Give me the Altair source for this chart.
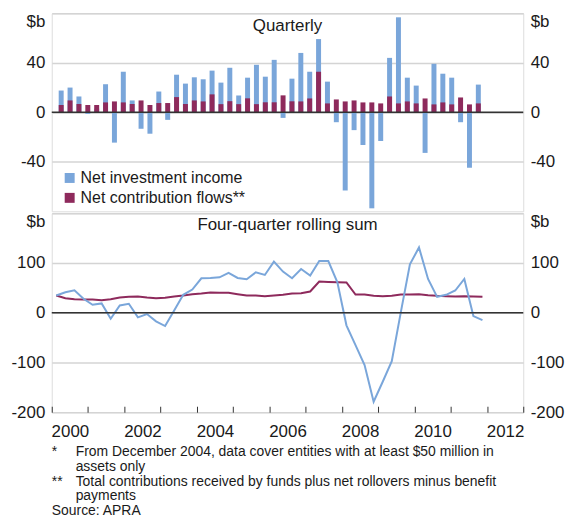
import altair as alt
import pandas as pd

# ---------------- data ----------------
quarters = [f"{y} Q{q}" for y in range(2000, 2012) for q in range(1, 5)]

net_investment_income = [
    17.6, 20.0, 12.8, -1.3, 3.0, 22.7, -24.5, 32.8, 9.6, -13.3, -17.3, 16.8,
    -6.1, 30.4, 23.2, 28.3, 26.7, 33.7, 24.0, 36.0, 13.6, 28.0, 38.4, 28.8,
    42.4, -4.5, 27.2, 48.0, 32.8, 59.2, 24.8, -8.0, -63.2, -14.4, -26.4, -77.6,
    -23.2, 44.0, 76.8, 28.0, 21.6, -32.8, 39.2, 31.2, 28.0, -8.0, -44.8, 22.4,
]
net_contribution_flows = [
    5.9, 9.6, 6.7, 5.9, 5.9, 8.0, 8.8, 8.0, 6.7, 9.6, 5.9, 7.5,
    7.5, 12.3, 6.7, 9.6, 8.8, 14.5, 6.6, 9.0, 6.6, 11.3, 6.6, 8.1,
    8.1, 13.7, 8.9, 8.8, 11.2, 32.8, 7.2, 10.4, 8.8, 9.6, 8.0, 8.0,
    7.2, 12.8, 7.2, 8.8, 7.2, 11.2, 6.4, 8.0, 6.4, 12.0, 6.4, 7.2,
]
rolling_investment = [
    34.7, 41.3, 45.3, 28.0, 16.0, 18.7, -12.0, 14.7, 18.0, -9.3, -2.7, -17.3,
    -26.7, 4.7, 36.0, 46.7, 69.3, 70.0, 71.3, 80.0, 70.0, 67.3, 81.3, 76.0,
    102.7, 82.7, 69.3, 88.0, 74.7, 104.0, 104.0, 61.3, -25.3, -65.0, -105.0, -178.7,
    -138.7, -97.3, 1.3, 97.3, 131.3, 68.0, 32.0, 36.0, 44.7, 68.0, -6.7, -14.7,
]
rolling_contribution = [
    34.7, 29.3, 27.3, 26.7, 26.7, 25.3, 27.3, 30.7, 32.0, 32.7, 30.7, 29.3,
    30.0, 32.7, 34.7, 37.3, 38.7, 40.7, 40.0, 40.0, 37.3, 34.7, 34.7, 33.3,
    34.7, 36.0, 38.7, 39.3, 42.7, 62.7, 62.0, 61.3, 61.0, 36.7, 36.7, 34.0,
    33.3, 34.0, 36.7, 36.7, 37.3, 35.3, 34.0, 33.3, 32.7, 33.3, 32.7, 32.0,
]
series_names = ["Net investment income", "Net contribution flows**"]
year_ticks = list(range(2000, 2014))
top_ticks = [-40, 0, 40, 80]
bottom_ticks = [-200, -100, 0, 100, 200]
footnotes = [
    ("*", "From December 2004, data cover entities with at least $50 million in"),
    ("", "assets only"),
    ("**", "Total contributions received by funds plus net rollovers minus benefit"),
    ("", "payments"),
    ("Source: APRA", ""),
]

# ---------------- styling ----------------
BLUE = "#7aa6da"
MAROON = "#8e2a5c"
TXT = "#1a1a1a"
W = 474
H_TOP = 199
H_BOT = 200
FONT = "Liberation Sans"


def qpos(label):
    y, q = label.split(" Q")
    return int(y) + (int(q) - 0.5) / 4.0


tpos = [qpos(q) for q in quarters]

bar_df = pd.DataFrame({
    "t": tpos + tpos,
    "v": net_investment_income + net_contribution_flows,
    "series": [series_names[0]] * len(tpos) + [series_names[1]] * len(tpos),
})
line_df = pd.DataFrame({"t": tpos, "inv": rolling_investment, "con": rolling_contribution})
one = pd.DataFrame({"a": [0]})

xs = alt.Scale(domain=[2000, 2013], nice=False, zero=False)
ys_top = alt.Scale(domain=[-80, 80], nice=False, zero=False)
ys_bot = alt.Scale(domain=[-200, 200], nice=False, zero=False)


def yaxis(orient, values, top, grid=True):
    expr = (f"datum.value == {top} ? '$b' : "
            "datum.value < 0 ? '-' + format(abs(datum.value), 'd') : format(datum.value, 'd')")
    return alt.Axis(
        orient=orient, values=values, labelExpr=expr, grid=grid,
        ticks=False, tickSize=0, domain=False, labelPadding=7,
        labelFontSize=17, labelColor=TXT, labelFont=FONT,
        gridColor="#d4d4d4", gridWidth=1.5,
        labelOverlap=False, labelFlush=False,
        labelAlign="right" if orient == "left" else "left",
        labelBaseline="middle",
        labelOffset={"condition": {"test": f"datum.value == {top}", "value": 8.5},
                     "value": 0},
        title=None,
    )


color = alt.Color(
    "series:N",
    scale=alt.Scale(domain=series_names, range=[BLUE, MAROON]),
    legend=alt.Legend(
        orient="none", legendX=10, legendY=157.5, title=None,
        symbolType="square", symbolSize=100, symbolStrokeWidth=0,
        labelFontSize=16, labelColor=TXT, labelFont=FONT, labelLimit=400,
        rowPadding=4, labelOffset=3, padding=0, symbolOpacity=1,
    ),
)

bars = alt.Chart(bar_df).mark_bar(size=5).encode(
    x=alt.X("t:Q", scale=xs, axis=None),
    y=alt.Y("v:Q", stack=None, scale=ys_top, axis=yaxis("left", top_ticks, 80)),
    color=color,
)
zero_top = alt.Chart(one).mark_rule(color="#333333", strokeWidth=1.5).encode(
    y=alt.YDatum(0, type="quantitative", scale=ys_top,
                 axis=yaxis("right", top_ticks, 80, grid=False)),
)
title_top = alt.Chart(one).mark_text(fontSize=17, color=TXT, font=FONT).encode(
    x=alt.value(W / 2), y=alt.value(13), text=alt.value("Quarterly"),
)
top = alt.layer(bars, zero_top, title_top).resolve_axis(y="independent").properties(
    width=W, height=H_TOP)

xaxis = alt.Axis(
    values=year_ticks, format="d",
    labelExpr="(datum.value % 2 == 0) && (datum.value < 2013) ? datum.label : ''",
    offset=-6, tickSize=6, tickColor="#333333", tickWidth=1, domain=False, grid=False,
    labelOffset=W / 13 / 2, labelFlush=False, labelOverlap=False, labelPadding=11,
    labelFontSize=17, labelColor=TXT, labelFont=FONT, title=None,
)
xenc = alt.X("t:Q", scale=xs, axis=xaxis)
line_con = alt.Chart(line_df).mark_line(color=MAROON, strokeWidth=2).encode(
    x=xenc,
    y=alt.Y("con:Q", scale=ys_bot, axis=yaxis("left", bottom_ticks, 200)),
)
line_inv = alt.Chart(line_df).mark_line(color=BLUE, strokeWidth=2).encode(
    x=xenc,
    y=alt.Y("inv:Q", scale=ys_bot, axis=None),
)
zero_bot = alt.Chart(one).mark_rule(color="#333333", strokeWidth=1.5).encode(
    y=alt.YDatum(0, type="quantitative", scale=ys_bot,
                 axis=yaxis("right", bottom_ticks, 200, grid=False)),
)
title_bot = alt.Chart(one).mark_text(fontSize=17, color=TXT, font=FONT).encode(
    x=alt.value(W / 2), y=alt.value(12), text=alt.value("Four-quarter rolling sum"),
)

note_layers = []
y0 = H_BOT + 39.7
for i, (mark, txt) in enumerate(footnotes):
    yy = y0 + i * 15.0
    if mark:
        note_layers.append(alt.Chart(one).mark_text(
            fontSize=14, color=TXT, font=FONT, align="left", baseline="middle").encode(
            x=alt.value(0), y=alt.value(yy), text=alt.value(mark)))
    if txt:
        note_layers.append(alt.Chart(one).mark_text(
            fontSize=14, color=TXT, font=FONT, align="left", baseline="middle").encode(
            x=alt.value(24), y=alt.value(yy), text=alt.value(txt)))

bottom = alt.layer(line_con, line_inv, zero_bot, title_bot, *note_layers).resolve_axis(
    y="independent").properties(width=W, height=H_BOT)

chart = alt.vconcat(top, bottom, spacing=0).configure_view(
    stroke="#3a3a3a", strokeWidth=1.5
).configure(font=FONT).properties(
    padding={"left": 2, "top": 3, "right": 5, "bottom": 0}
)

chart.save("out.html", embed_options={"renderer": "svg", "actions": False})
